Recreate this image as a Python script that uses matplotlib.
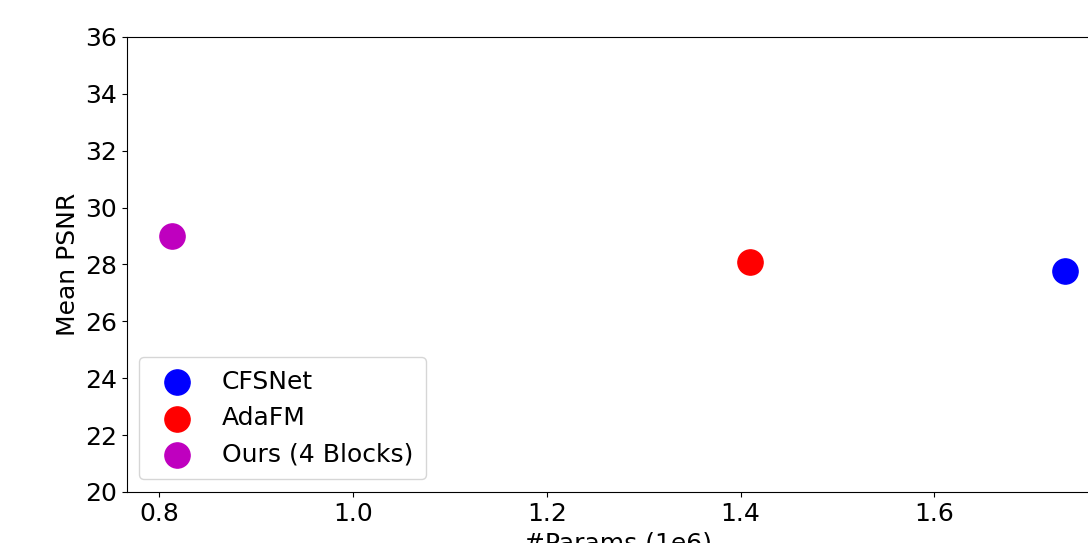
import matplotlib
matplotlib.use('Agg')
from matplotlib import pyplot as plt

# data
methods = ['CFSNet', 'AdaFM', 'Ours (4 Blocks)']
params = [1.735, 1.41, 0.813]
psnr = [27.77, 28.09, 29.0]
colors = ['b', 'r', 'm']

plt.rcParams['font.size'] = 18

fig = plt.figure(figsize=(10.88, 5.43), dpi=100)
ax = fig.add_axes([0.1167, 0.094, 0.9035, 0.838])

for name, x, y, c in zip(methods, params, psnr, colors):
    ax.scatter(x, y, s=330, c=c, label=name)

ax.set_ylim(20, 36)
ax.set_yticks(range(20, 37, 2))
ax.set_xlabel('#Params (1e6)')
ax.set_ylabel('Mean PSNR')
ax.legend(loc='lower left', borderpad=0.5, labelspacing=0.5)

fig.savefig('out.png', dpi=100)
